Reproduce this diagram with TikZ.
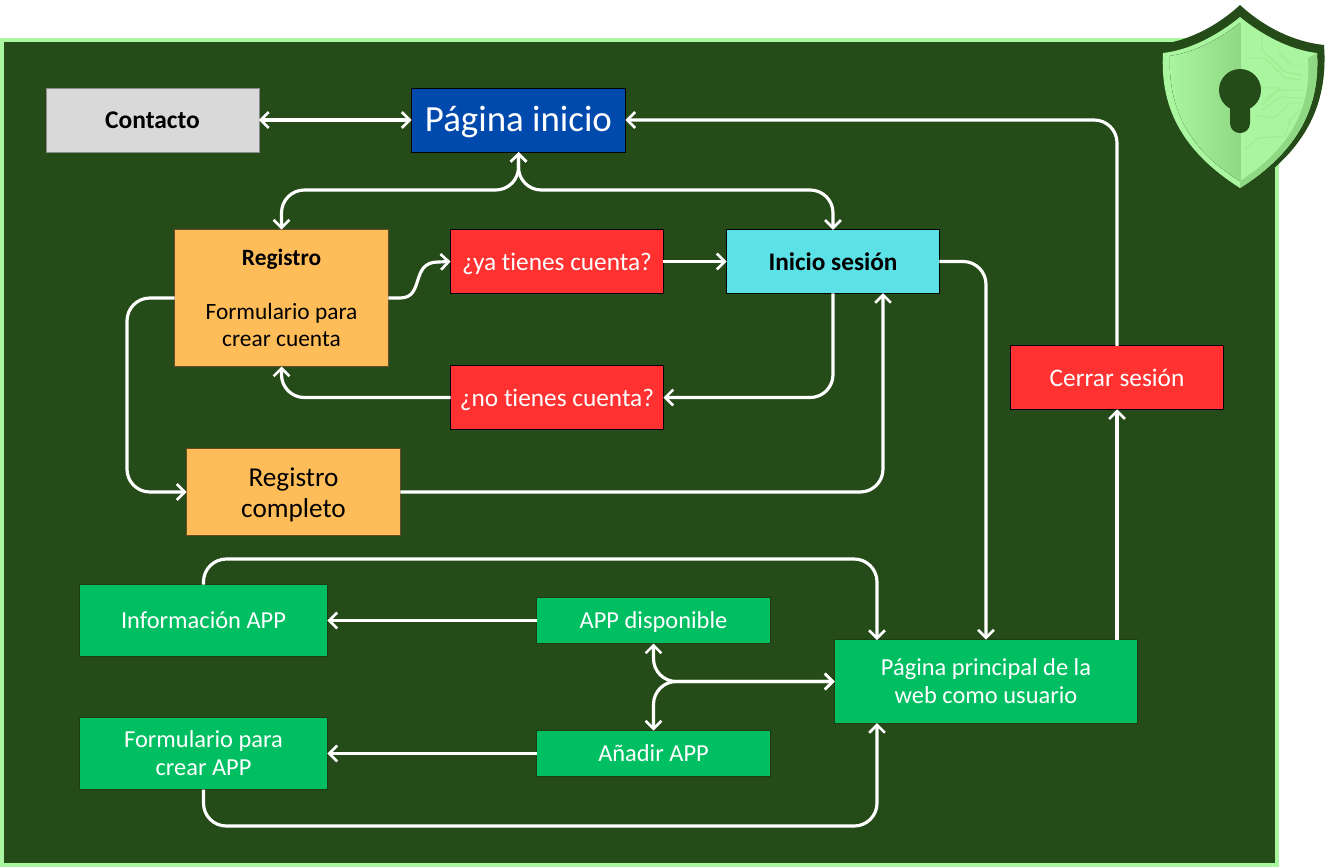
\documentclass[tikz,border=0pt]{standalone}
\usepackage{fontspec}
\setmainfont{Carlito}[Ligatures=CommonOff]
\usepackage{xcolor}
\usetikzlibrary{arrows.meta}

\definecolor{fondo}{HTML}{254B18}
\definecolor{borde}{HTML}{AAF59F}
\definecolor{bordeosc}{HTML}{8FD884}
\definecolor{trazo}{HTML}{9CEC91}
\definecolor{azul}{HTML}{004AAD}
\definecolor{rojo}{HTML}{FF3131}
\definecolor{naranja}{HTML}{FFBD59}
\definecolor{cian}{HTML}{5CE1E6}
\definecolor{verde}{HTML}{00BF63}
\definecolor{gris}{HTML}{D9D9D9}

\tikzset{
  caja/.style={rectangle,inner sep=0pt,outer sep=0pt,align=center,line width=0.5pt,draw=black},
  rojabox/.style={caja,fill=rojo,text=white,minimum width=4.26cm,minimum height=1.27cm,text height=12pt,text depth=2pt,font=\fontsize{14.4}{17}\selectfont},
  verdebox/.style={caja,fill=verde,draw=fondo!80!black,text=white,font=\fontsize{13.9}{16}\selectfont},
  naranjabox/.style={caja,fill=naranja,draw=black!60!naranja,minimum width=4.28cm},
  link/.style={draw=white,line width=1.8pt,rounded corners=13pt,-{Straight Barb[length=4.5pt,width=9pt,line width=1.5pt]}},
  dobles/.style={link,{Straight Barb[length=4.5pt,width=9pt,line width=1.5pt]}-{Straight Barb[length=4.5pt,width=9pt,line width=1.5pt]}},
  circuito/.style={draw=trazo,line width=0.5pt}
}

\begin{document}
\begin{tikzpicture}[x=0.02cm,y=-0.02cm]
  \useasboundingbox (0,0) rectangle (1342,867);
  \fill[white] (0,0) rectangle (1342,867);
  \draw[fill=fondo,draw=borde,line width=2.2pt] (2,40) rectangle (1277,865);

  % cajas de arriba
  \node (contacto) at (152.5,120) [caja,fill=gris,draw=black!45,minimum width=4.26cm,minimum height=1.28cm,text height=12pt,text depth=2pt,font=\fontsize{14.5}{17}\selectfont\bfseries] {Contacto};
  \node (inicio) at (518.5,120) [caja,fill=azul,text=white,minimum width=4.28cm,minimum height=1.28cm,text height=16pt,text depth=3pt,font=\fontsize{21}{25}\selectfont] {Página inicio};

  \node (registro) at (281.5,298) [naranjabox,minimum height=2.74cm,font=\fontsize{13.3}{15.5}\selectfont] {\textbf{Registro}\\[15.5pt]Formulario para\\crear cuenta};
  \node (ya) at (557,261.5) [rojabox] {¿ya tienes cuenta?};
  \node (sesion) at (833,261.5) [caja,fill=cian,minimum width=4.26cm,minimum height=1.27cm,text height=12pt,text depth=2pt,font=\fontsize{14.4}{17}\selectfont\bfseries] {Inicio sesión};
  \node (no) at (557,397.5) [rojabox] {¿no tienes cuenta?};
  \node (completo) at (293.5,492) [naranjabox,minimum height=1.74cm,font=\fontsize{15.5}{17.5}\selectfont] {\rule{0pt}{14pt}Registro\\completo};
  \node (cerrar) at (1117,377.5) [rojabox] {Cerrar sesión};

  % cajas verdes
  \node (info) at (203.5,620.5) [verdebox,minimum width=4.96cm,minimum height=1.44cm,text height=11pt,text depth=2.3pt] {Información APP};
  \node (disponible) at (653.5,620.5) [verdebox,minimum width=4.68cm,minimum height=0.92cm,text height=11pt,text depth=2.3pt] {APP disponible};
  \node (anadir) at (653.5,753.5) [verdebox,minimum width=4.68cm,minimum height=0.92cm,text height=11pt,text depth=2.3pt] {Añadir APP};
  \node (formulario) at (203.5,753.5) [verdebox,minimum width=4.96cm,minimum height=1.44cm] {Formulario para\\crear APP};
  \node (principal) at (986,681.5) [verdebox,minimum width=6.06cm,minimum height=1.68cm] {Página principal de la\\web como usuario};

  \coordinate (sesionin) at (883,293);
  \coordinate (arribain) at (877,640);
  \coordinate (abajoin) at (877,723);

  % conectores
  \draw[dobles] (contacto) -- (inicio);
  \draw[dobles] (inicio.south) |- (281.5,190) -- (registro.north);
  \draw[dobles] (inicio.south) |- (833,190) -- (sesion.north);
  \draw[link,sharp corners] (registro.east) -- (400,298) .. controls (425,298) and (410,262) .. (438,262) -- (ya.west);
  \draw[link] (ya) -- (sesion);
  \draw[link] (sesion.east) -| (principal.north);
  \draw[link] (sesion.south) |- (no.east);
  \draw[link] (no.west) -| (registro.south);
  \draw[link] (registro.west) -- (127,298) |- (completo.west);
  \draw[link] (completo.east) -| (sesionin);
  \draw[link] (principal.north -| cerrar.south) -- (cerrar.south);
  \draw[link] (cerrar.north) |- (inicio.east);
  \draw[link] (disponible) -- (info);
  \draw[link] (anadir) -- (formulario);
  \draw[link] (info.north) |- (877,559) -- (arribain);
  \draw[link] (formulario.south) |- (877,826) -- (abajoin);
  \draw[dobles] (disponible.south) |- (principal.west);
  \draw[dobles] (anadir.north) |- (principal.west);

  % escudo
  \fill[fondo] (1240,5) .. controls (1265,28) and (1295,42) .. (1324,45)
    .. controls (1328,100) and (1310,150) .. (1240,193)
    .. controls (1170,150) and (1152,100) .. (1156,45)
    .. controls (1185,42) and (1215,28) .. (1240,5) -- cycle;
  \fill[borde] (1240,17) .. controls (1262,35) and (1290,50) .. (1317,53)
    .. controls (1320,105) and (1300,150) .. (1240,188)
    .. controls (1180,150) and (1160,105) .. (1163,53)
    .. controls (1190,50) and (1218,35) .. (1240,17) -- cycle;
  \fill[left color=borde,right color=bordeosc] (1240,23) .. controls (1218,40) and (1195,52) .. (1170,56)
    .. controls (1168,105) and (1186,148) .. (1240,181) -- cycle;
  \fill[bordeosc] (1317,53) .. controls (1320,105) and (1300,150) .. (1240,188) -- (1240,181)
    .. controls (1292,148) and (1312,105) .. (1308,58) -- cycle;
  \draw[circuito] (1262,35) -- (1262,50) -- (1285,72) -- (1302,75);
  \draw[circuito] (1245,58) -- (1265,58) -- (1285,78) -- (1302,80);
  \draw[circuito] (1260,88) -- (1280,88) -- (1265,100);
  \draw[circuito] (1262,105) -- (1278,90) -- (1302,90);
  \draw[circuito] (1262,110) -- (1280,97) -- (1302,98);
  \draw[circuito] (1255,115) -- (1275,118) -- (1290,103) -- (1302,103);
  \draw[circuito] (1245,150) -- (1258,138) -- (1285,136) -- (1290,120) -- (1300,110);
  \draw[circuito] (1278,52) -- (1292,66) -- (1300,66);
  % cerradura
  \fill[fondo] (1240,90) circle (21);
  \fill[fondo,rounded corners=5.5pt] (1230,100) rectangle (1250,133);
\end{tikzpicture}
\end{document}
